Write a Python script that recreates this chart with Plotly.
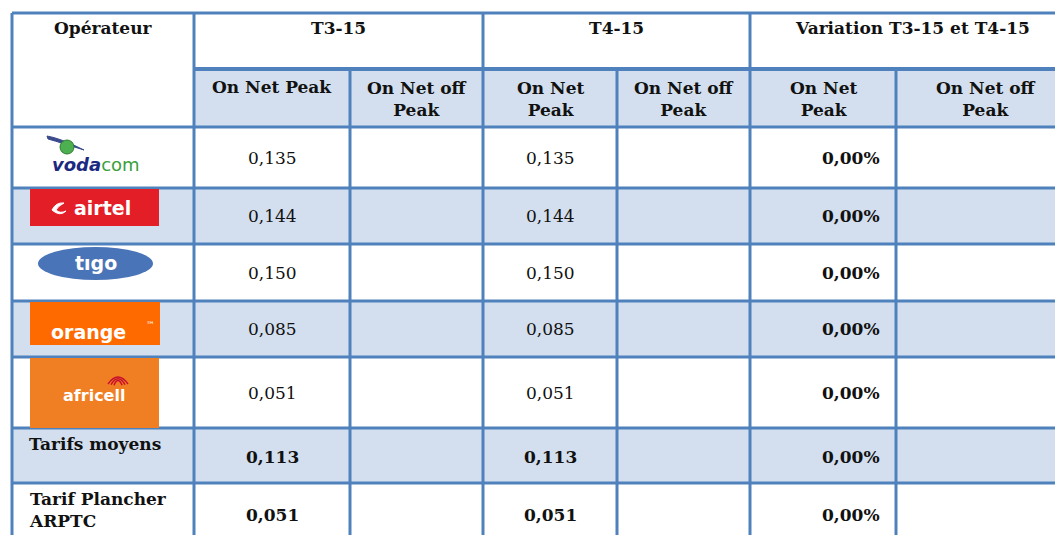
import plotly.graph_objects as go

# ---------------- data ----------------
operators = ["vodacom", "airtel", "tigo", "orange", "africell"]
t3_on_net_peak = [0.135, 0.144, 0.150, 0.085, 0.051]
t4_on_net_peak = [0.135, 0.144, 0.150, 0.085, 0.051]
variation_peak = [0.0, 0.0, 0.0, 0.0, 0.0]
summary_labels = ["Tarifs moyens", "Tarif Plancher<br>ARPTC"]
summary_t3 = [0.113, 0.051]
summary_t4 = [0.113, 0.051]
summary_var = [0.0, 0.0]
period_headers = ["T3-15", "T4-15", "Variation T3-15 et T4-15"]
sub_headers = ["On Net Peak", "On Net off<br>Peak", "On Net<br>Peak", "On Net off<br>Peak",
               "On Net<br>Peak", "On Net off<br>Peak"]
first_header = "Opérateur"

# ---------------- layout geometry ----------------
W, H = 1055, 535
col_edges = [12, 194, 350, 483, 617, 750, 896, 1075]
row_edges = [13, 69, 127, 188, 244, 301, 357, 428, 483, 560]
BORDER = "#4F81BD"
SHADE = "#D3DFEE"
FONT = "DejaVu Serif"
FS = 17
TXT = "#111111"


def fmt(v, nd=3):
    return f"{v:.{nd}f}".replace(".", ",")


def pct(v):
    return f"{v * 100:.2f}".replace(".", ",") + "%"


shapes = []
annotations = []


def rect(x0, y0, x1, y1, fill, line=None, kind="rect", layer="below"):
    shapes.append(dict(type=kind, xref="x", yref="y", x0=x0, y0=y0, x1=x1, y1=y1,
                       fillcolor=fill, line=dict(width=0) if line is None else line,
                       layer=layer))


def line(x0, y0, x1, y1, w=3, color=BORDER):
    shapes.append(dict(type="line", xref="x", yref="y", x0=x0, y0=y0, x1=x1, y1=y1,
                       line=dict(color=color, width=w), layer="above"))


def text(x, y, s, size=FS, bold=False, xanchor="center", yanchor="middle", color=TXT,
         family=FONT, align="center"):
    annotations.append(dict(x=x, y=y, xref="x", yref="y", text=f"<b>{s}</b>" if bold else s,
                            showarrow=False, xanchor=xanchor, yanchor=yanchor, align=align,
                            font=dict(family=family, size=size, color=color)))


# shading
rect(col_edges[1], row_edges[1], col_edges[-1], row_edges[2], SHADE)
for r in [1, 3]:  # airtel, orange
    rect(col_edges[0], row_edges[2 + r], col_edges[-1], row_edges[3 + r], SHADE)
rect(col_edges[0], row_edges[7], col_edges[-1], row_edges[8], SHADE)

# borders: horizontal
line(col_edges[0], row_edges[0], col_edges[-1], row_edges[0])
line(col_edges[1], row_edges[1], col_edges[-1], row_edges[1], w=4)
for r in range(2, len(row_edges) - 1):
    line(col_edges[0], row_edges[r], col_edges[-1], row_edges[r])
# borders: vertical
for c in [0, 1, 3, 5]:
    line(col_edges[c], row_edges[0], col_edges[c], row_edges[1])
for c in range(len(col_edges) - 1):
    line(col_edges[c], row_edges[1], col_edges[c], row_edges[-1])


def cx(c):
    return (col_edges[c] + col_edges[c + 1]) / 2


# headers
text(cx(0), 28, first_header, bold=True)
for i, h in enumerate(period_headers):
    text((col_edges[1 + 2 * i] + col_edges[3 + 2 * i]) / 2, 28, h, bold=True)
for i, h in enumerate(sub_headers):
    if "<br>" in h:
        text(cx(1 + i), 99, h, bold=True)
    else:
        text(cx(1 + i), 87, h, bold=True)

# data rows
for r in range(len(operators)):
    yc = (row_edges[2 + r] + row_edges[3 + r]) / 2
    text(cx(1), yc, fmt(t3_on_net_peak[r]))
    text(cx(3), yc, fmt(t4_on_net_peak[r]))
    text(col_edges[6] - 14, yc, pct(variation_peak[r]), bold=True, xanchor="right")

# summary rows
summary_label_y = [444, 510]
summary_value_y = [457, 515]
for k in range(len(summary_labels)):
    text(27, summary_label_y[k], summary_labels[k], bold=True, xanchor="left", align="left")
    yc = summary_value_y[k]
    text(cx(1), yc, fmt(summary_t3[k]), bold=True)
    text(cx(3), yc, fmt(summary_t4[k]), bold=True)
    text(col_edges[6] - 14, yc, pct(summary_var[k]), bold=True, xanchor="right")

# ---------------- logos (drawn) ----------------
SANS = "DejaVu Sans"
# vodacom
shapes.append(dict(type="path", xref="x", yref="y",
                   path="M 47 136 Q 60 138 84 150 Q 62 143 48 139 Z",
                   fillcolor="#3A4A8C", line=dict(color="#3A4A8C", width=1), layer="above"))
rect(60, 140, 74, 154, "#4CAF50", line=dict(color="#2E7D32", width=1), kind="circle", layer="above")
annotations.append(dict(x=96, y=164, xref="x", yref="y", showarrow=False,
                        text="<b><i><span style='color:#1B2A80'>voda</span></i></b>"
                             "<span style='color:#3AA03A'>com</span>",
                        font=dict(family=SANS, size=18)))
# airtel
rect(30, 189, 159, 226, "#E41E26", layer="above")
shapes.append(dict(type="path", xref="x", yref="y",
                   path="M 52 210 Q 56 202 64 203 Q 58 206 56 210 Q 60 214 66 211 Q 60 217 52 210 Z",
                   fillcolor="white", line=dict(color="white", width=1), layer="above"))
text(102, 208, "airtel", size=19, bold=True, color="white", family=SANS)
# tigo
rect(38, 247, 153, 280, "#4A74B8", kind="circle", layer="above")
text(96, 263, "tıgo", size=19, bold=True, color="white", family=SANS)
# orange
rect(30, 302, 160, 345, "#FF6A00", layer="above")
text(88, 332, "orange", size=19, bold=True, color="white", family=SANS)
text(150, 325, "™", size=9, color="white", family=SANS)
# africell
rect(30, 358, 159, 428, "#F07E22", layer="above")
text(94, 395, "africell", size=16, bold=True, color="white", family=SANS)
for rr in [4, 7, 10]:
    shapes.append(dict(type="path", xref="x", yref="y",
                       path=f"M {118 - rr} {386 - rr * 0.2} Q 118 {380 - rr} {118 + rr} {386 - rr * 0.2}",
                       line=dict(color="#C8102E", width=1.5), layer="above"))

fig = go.Figure()
fig.update_layout(
    width=W, height=H,
    margin=dict(l=0, r=0, t=0, b=0),
    paper_bgcolor="white", plot_bgcolor="white",
    xaxis=dict(range=[0, W], visible=False, fixedrange=True),
    yaxis=dict(range=[H, 0], visible=False, fixedrange=True),
    shapes=shapes, annotations=annotations, showlegend=False,
)
fig.write_html(
    "out.html",
    config={"displayModeBar": False},
    post_script="document.body.style.margin='0';document.body.style.overflow='hidden';"
                "document.documentElement.style.overflow='hidden';",
)
